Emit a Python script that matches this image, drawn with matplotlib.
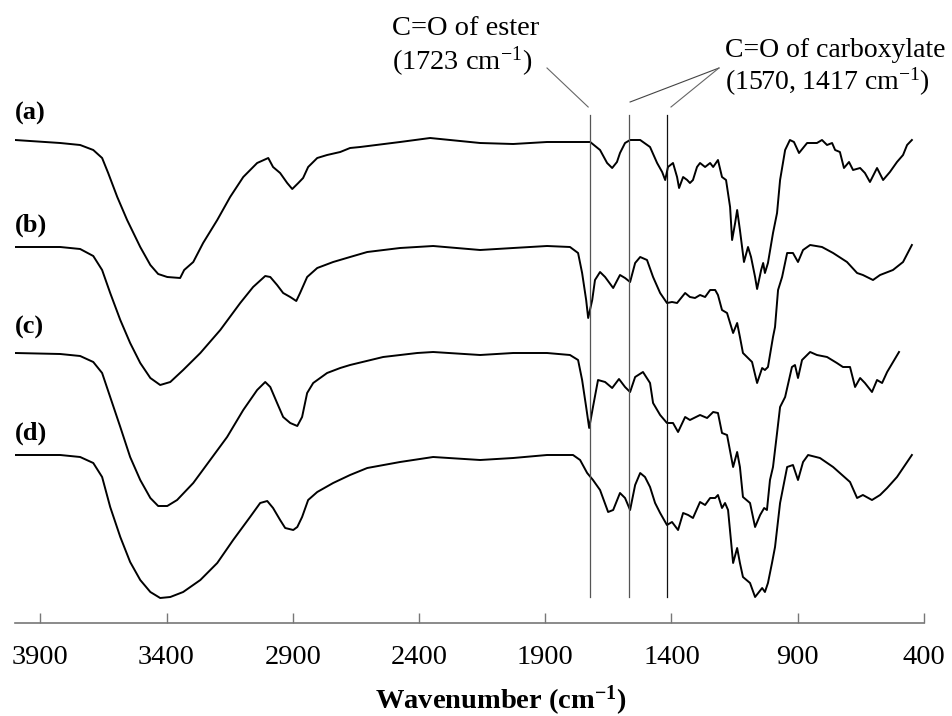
import numpy as np
from matplotlib import pyplot as plt

plt.rcParams['font.family'] = ['Liberation Serif', 'DejaVu Serif']
plt.rcParams['mathtext.fontset'] = 'custom'
plt.rcParams['mathtext.rm'] = 'Liberation Serif'
plt.rcParams['mathtext.it'] = 'Liberation Serif:italic'
plt.rcParams['mathtext.bf'] = 'Liberation Serif:bold'

# FTIR spectra, transmittance in arbitrary units relative to the 4000 cm-1 level
wn_a = [4000, 3821, 3742, 3690, 3655, 3631, 3595, 3556, 3504, 3464,
        3433, 3397, 3346, 3330, 3294, 3255, 3199, 3148, 3096, 3041,
        2997, 2978, 2950, 2922, 2902, 2878, 2859, 2839, 2803, 2764,
        2712, 2673, 2633, 2475, 2356, 2158, 2027, 1893, 1722, 1683,
        1655, 1635, 1616, 1604, 1584, 1564, 1524, 1485, 1457, 1437,
        1425, 1414, 1394, 1378, 1370, 1354, 1338, 1327, 1315, 1299,
        1287, 1267, 1247, 1235, 1216, 1200, 1184, 1168, 1160, 1148,
        1140, 1129, 1113, 1097, 1085, 1069, 1061, 1045, 1037, 1030,
        1018, 998, 982, 970, 950, 931, 915, 895, 863, 824,
        804, 784, 764, 752, 733, 717, 697, 681, 653, 634,
        614, 586, 562, 535, 507, 483, 467, 448]
t_a = [0, -3, -5, -10, -18, -33, -57, -80, -107, -125,
       -134, -137, -138, -130, -122, -103, -80, -57, -37, -23,
       -18, -27, -33, -43, -49, -43, -38, -27, -18, -15,
       -12, -8, -7, -2, 2, -3, -4, -2, -2, -10,
       -23, -28, -22, -13, -3, 0, 0, -7, -23, -32,
       -40, -27, -23, -37, -48, -37, -40, -43, -40, -27,
       -23, -27, -23, -27, -20, -37, -40, -67, -100, -83,
       -70, -90, -122, -107, -117, -137, -149, -130, -123, -133,
       -123, -93, -73, -40, -10, 0, -2, -13, -3, -3,
       0, -5, -3, -10, -12, -28, -22, -30, -28, -33,
       -42, -28, -40, -32, -22, -15, -5, 0]

wn_b = [4000, 3821, 3742, 3690, 3655, 3623, 3583, 3544, 3504, 3464,
        3425, 3385, 3334, 3266, 3187, 3108, 3057, 3009, 2989, 2962,
        2938, 2910, 2886, 2871, 2843, 2803, 2740, 2673, 2605, 2475,
        2344, 2158, 2027, 1893, 1802, 1770, 1754, 1738, 1730, 1714,
        1703, 1683, 1663, 1631, 1604, 1584, 1564, 1544, 1524, 1497,
        1473, 1445, 1418, 1398, 1378, 1362, 1346, 1327, 1307, 1287,
        1267, 1247, 1227, 1216, 1200, 1180, 1156, 1140, 1129, 1117,
        1081, 1061, 1041, 1030, 1018, 998, 990, 978, 962, 942,
        919, 899, 879, 851, 804, 760, 705, 665, 642, 602,
        574, 523, 483, 448]
t_b = [0, 0, -2, -9, -23, -46, -73, -96, -116, -131,
       -138, -135, -123, -106, -83, -56, -40, -29, -30, -38,
       -46, -50, -54, -46, -30, -21, -15, -10, -5, -1,
       1, -3, -1, 1, 0, -6, -26, -53, -71, -53,
       -33, -25, -30, -41, -28, -31, -35, -16, -10, -13,
       -30, -46, -56, -55, -56, -51, -46, -50, -51, -48,
       -50, -43, -43, -48, -63, -66, -86, -76, -90, -106,
       -115, -136, -121, -123, -120, -90, -80, -43, -30, -6,
       -6, -15, -3, 2, 0, -6, -15, -26, -28, -33,
       -28, -23, -15, 2]

wn_c = [4000, 3821, 3742, 3690, 3655, 3623, 3583, 3544, 3504, 3464,
        3433, 3397, 3358, 3294, 3227, 3160, 3096, 3041, 3009, 2989,
        2962, 2938, 2910, 2882, 2863, 2843, 2819, 2764, 2712, 2673,
        2542, 2407, 2344, 2158, 2027, 1893, 1802, 1770, 1754, 1738,
        1726, 1711, 1691, 1663, 1635, 1608, 1584, 1564, 1544, 1513,
        1485, 1473, 1445, 1418, 1394, 1374, 1346, 1327, 1287, 1259,
        1235, 1216, 1200, 1180, 1156, 1140, 1129, 1117, 1089, 1069,
        1049, 1033, 1022, 1010, 998, 982, 970, 950, 923, 911,
        899, 883, 851, 824, 784, 745, 721, 693, 673, 653,
        634, 606, 586, 566, 546, 499]
t_c = [0, -1, -3, -9, -20, -44, -74, -104, -127, -145,
       -153, -153, -147, -130, -107, -84, -57, -37, -29, -34,
       -50, -64, -70, -73, -64, -40, -30, -20, -15, -12,
       -4, 0, 1, -2, 0, 0, -2, -7, -27, -54,
       -75, -54, -27, -29, -35, -26, -34, -39, -24, -19,
       -30, -50, -62, -70, -70, -79, -64, -67, -62, -65,
       -59, -60, -80, -82, -114, -99, -114, -144, -150, -174,
       -162, -155, -157, -127, -114, -80, -54, -44, -14, -12,
       -25, -7, 1, -2, -4, -10, -14, -14, -34, -25,
       -30, -39, -27, -30, -19, 1]

wn_d = [4000, 3821, 3742, 3690, 3655, 3623, 3583, 3544, 3504, 3464,
        3425, 3385, 3334, 3266, 3199, 3136, 3069, 3029, 3001, 2978,
        2950, 2930, 2898, 2882, 2863, 2839, 2803, 2740, 2673, 2605,
        2475, 2344, 2158, 2027, 1893, 1790, 1762, 1734, 1711, 1683,
        1651, 1631, 1604, 1584, 1564, 1544, 1524, 1505, 1485, 1465,
        1445, 1418, 1398, 1374, 1354, 1334, 1315, 1287, 1267, 1247,
        1227, 1216, 1200, 1188, 1176, 1156, 1140, 1129, 1117, 1089,
        1069, 1041, 1030, 1018, 1002, 990, 970, 942, 919, 899,
        879, 859, 812, 760, 693, 665, 642, 606, 574, 546,
        507, 448]
t_d = [0, 0, -2, -8, -22, -52, -82, -107, -125, -137,
       -143, -142, -137, -125, -108, -85, -62, -48, -46, -53,
       -65, -73, -75, -72, -62, -45, -37, -28, -20, -13,
       -7, -2, -5, -3, 0, 0, -5, -18, -25, -35,
       -57, -55, -38, -43, -55, -30, -18, -22, -32, -48,
       -58, -70, -67, -75, -58, -60, -63, -47, -50, -43,
       -43, -40, -53, -48, -55, -108, -93, -108, -122, -128,
       -142, -133, -137, -128, -108, -92, -48, -12, -10, -25,
       -7, 0, -3, -12, -27, -43, -40, -45, -40, -33,
       -22, 0]

spectra = [(wn_a, t_a), (wn_b, t_b), (wn_c, t_c), (wn_d, t_d)]
sample_labels = ['(a)', '(b)', '(c)', '(d)']
offsets = [483, 376, 270, 168]
label_y = [510, 398, 296, 190]

peak_lines = [1723, 1570, 1417]
peak_colors = ['#555555', '#555555', '#111111']

fig = plt.figure(figsize=(9.53, 7.16), dpi=100)
ax = fig.add_axes([15/953, 93/716, 909/953, 623/716])

for (wn, t), off in zip(spectra, offsets):
    ax.plot(wn, np.array(t) + off, color='black', lw=1.4)

for lab, ly in zip(sample_labels, label_y):
    ax.text(4000, ly, lab, fontsize=19, fontweight='bold', va='center', ha='left')

for wl, c in zip(peak_lines, peak_colors):
    ax.plot([wl, wl], [26, 508], color=c, lw=0.9)

# annotations
ax.text(2506, 588, 'C=O of ester', fontsize=20.5, va='baseline', ha='left')
ax.text(2506, 553, r'(1723 cm$^{-1}$)', fontsize=20.5, va='baseline', ha='left')
ax.plot([1893, 1730], [555, 516], color='#666666', lw=0.8, clip_on=False)

ax.text(1188, 566, 'C=O of carboxylate', fontsize=20, va='baseline', ha='left', clip_on=False)
ax.text(1188, 533, r'(1570, 1417 cm$^{-1}$)', fontsize=20, va='baseline', ha='left', clip_on=False)
ax.plot([1212, 1564], [555, 521], color='#444444', lw=0.8, clip_on=False)
ax.plot([1212, 1402], [555, 516], color='#666666', lw=0.8, clip_on=False)

ax.set_xlim(4000, 400)
ax.set_ylim(0, 623)
ax.set_xticks([3900, 3400, 2900, 2400, 1900, 1400, 900, 400])
ax.set_yticks([])
for s in ['left', 'top', 'right']:
    ax.spines[s].set_visible(False)
ax.spines['bottom'].set_color('#777777')
ax.spines['bottom'].set_linewidth(1.2)
ax.tick_params(axis='x', direction='in', length=7, width=1, color='#777777',
               labelsize=20.5, pad=16)
ax.set_xlabel(r'Wavenumber (cm$^{\mathbf{-1}}$)', fontsize=20.5, fontweight='bold')
ax.xaxis.set_label_coords(0.534, -0.097)

fig.savefig('out.png', dpi=100)
